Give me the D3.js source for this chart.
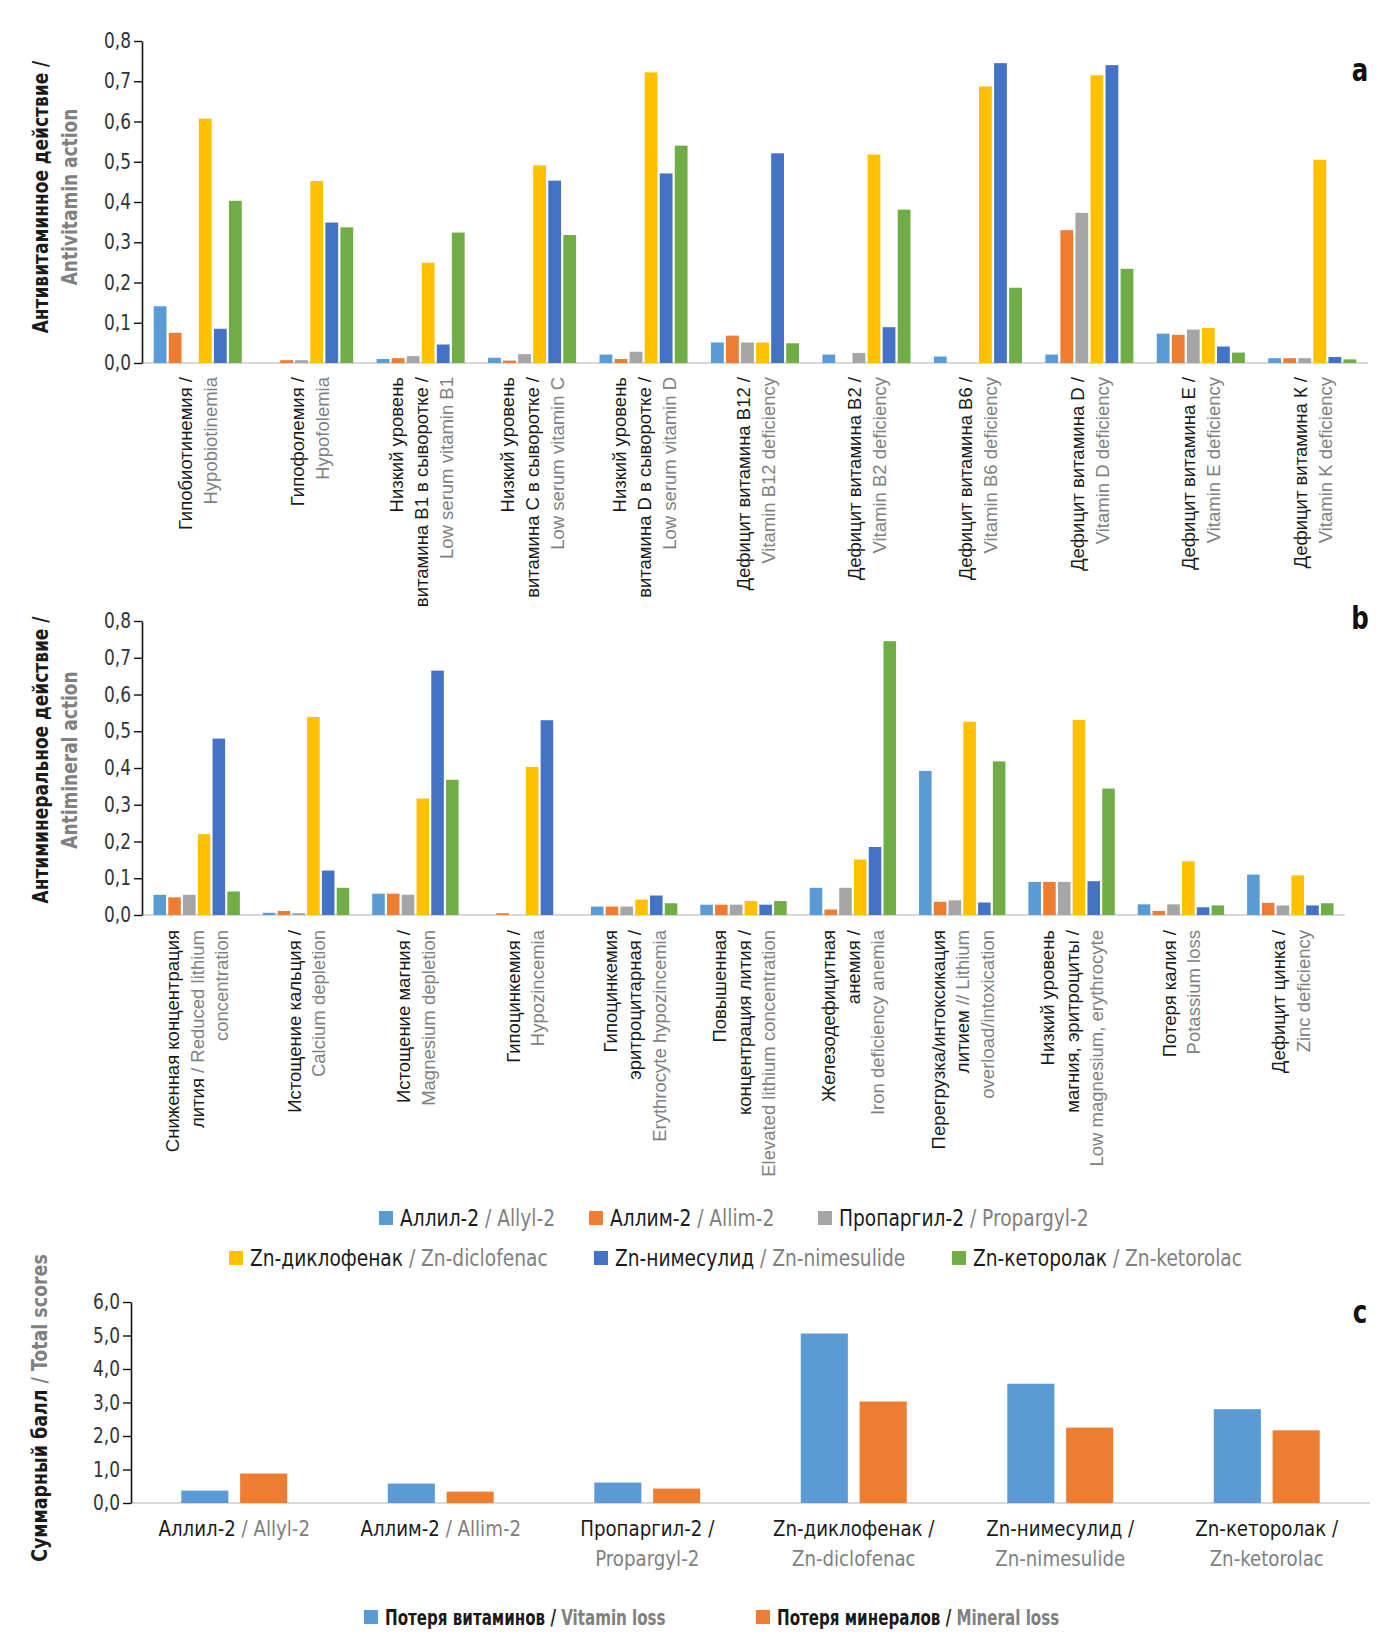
<!DOCTYPE html>
<html><head><meta charset="utf-8">
<script src="https://cdn.jsdelivr.net/npm/d3@7"></script>
<style>
html,body{margin:0;padding:0;background:#fff;}
.cond{font-family:"Liberation Sans Narrow","Arial Narrow","DejaVu Sans Condensed","Roboto Condensed","Open Sans",sans-serif;}
.reg{font-family:"Liberation Sans",Arial,sans-serif;}
</style>
</head><body>
<svg id="chart" width="1400" height="1649"></svg>
<script>
// ---------- DATA ----------
const seriesRu = ["Аллил-2", "Аллим-2", "Пропаргил-2", "Zn-диклофенак", "Zn-нимесулид", "Zn-кеторолак"];
const seriesEn = ["Allyl-2", "Allim-2", "Propargyl-2", "Zn-diclofenac", "Zn-nimesulide", "Zn-ketorolac"];
const seriesColors = ["#5b9bd5", "#ed7d31", "#a5a5a5", "#ffc000", "#4472c4", "#70ad47"];

// Panel a: antivitamin action ("|" marks the start of grey English text)
const vitaminCategories = [
  ["Гипобиотинемия /", "|Hypobiotinemia"],
  ["Гипофолемия /", "|Hypofolemia"],
  ["Низкий уровень", "витамина В1 в сыворотке /", "|Low serum vitamin B1"],
  ["Низкий уровень", "витамина С в сыворотке /", "|Low serum vitamin C"],
  ["Низкий уровень", "витамина D в сыворотке /", "|Low serum vitamin D"],
  ["Дефицит витамина В12 /", "|Vitamin B12 deficiency"],
  ["Дефицит витамина В2 /", "|Vitamin B2 deficiency"],
  ["Дефицит витамина В6 /", "|Vitamin B6 deficiency"],
  ["Дефицит витамина D /", "|Vitamin D deficiency"],
  ["Дефицит витамина Е /", "|Vitamin E deficiency"],
  ["Дефицит витамина К /", "|Vitamin K deficiency"]
];
const vitAllyl      = [0.141, 0.000, 0.010, 0.013, 0.021, 0.051, 0.021, 0.016, 0.021, 0.073, 0.012];
const vitAllim      = [0.075, 0.007, 0.012, 0.006, 0.010, 0.068, 0.000, 0.000, 0.330, 0.070, 0.012];
const vitPropargyl  = [0.000, 0.007, 0.017, 0.022, 0.028, 0.051, 0.025, 0.000, 0.373, 0.083, 0.012];
const vitDiclofenac = [0.607, 0.452, 0.249, 0.491, 0.722, 0.051, 0.518, 0.687, 0.715, 0.087, 0.505];
const vitNimesulide = [0.085, 0.349, 0.046, 0.453, 0.471, 0.521, 0.089, 0.745, 0.740, 0.041, 0.015];
const vitKetorolac  = [0.403, 0.337, 0.324, 0.318, 0.540, 0.049, 0.381, 0.187, 0.234, 0.026, 0.009];

// Panel b: antimineral action
const mineralCategories = [
  ["Сниженная концентрация", "лития |/ Reduced lithium", "|concentration"],
  ["Истощение кальция /", "|Calcium depletion"],
  ["Истощение магния /", "|Magnesium depletion"],
  ["Гипоцинкемия /", "|Hypozincemia"],
  ["Гипоцинкемия", "эритроцитарная /", "|Erythrocyte hypozincemia"],
  ["Повышенная", "концентрация лития /", "|Elevated lithium concentration"],
  ["Железодефицитная", "анемия /", "|Iron deficiency anemia"],
  ["Перегрузка/интоксикация", "литием |// Lithium", "|overload/intoxication"],
  ["Низкий уровень", "магния, эритроциты /", "|Low magnesium, erythrocyte"],
  ["Потеря калия /", "|Potassium loss"],
  ["Дефицит цинка /", "|Zinc deficiency"]
];
const minAllyl      = [0.055, 0.006, 0.058, 0.000, 0.023, 0.028, 0.074, 0.392, 0.090, 0.029, 0.110];
const minAllim      = [0.048, 0.011, 0.058, 0.005, 0.023, 0.028, 0.015, 0.036, 0.090, 0.011, 0.033];
const minPropargyl  = [0.055, 0.005, 0.055, 0.000, 0.023, 0.028, 0.074, 0.040, 0.090, 0.029, 0.026];
const minDiclofenac = [0.220, 0.539, 0.317, 0.403, 0.042, 0.038, 0.151, 0.526, 0.531, 0.146, 0.108];
const minNimesulide = [0.480, 0.121, 0.665, 0.530, 0.053, 0.028, 0.185, 0.034, 0.092, 0.021, 0.026];
const minKetorolac  = [0.064, 0.074, 0.368, 0.000, 0.032, 0.038, 0.745, 0.418, 0.344, 0.026, 0.032];

// Panel c: total scores
const totalCategories = [
  ["Аллил-2 |/ Allyl-2"],
  ["Аллим-2 |/ Allim-2"],
  ["Пропаргил-2 /", "|Propargyl-2"],
  ["Zn-диклофенак /", "|Zn-diclofenac"],
  ["Zn-нимесулид /", "|Zn-nimesulide"],
  ["Zn-кеторолак /", "|Zn-ketorolac"]
];
const vitaminLoss = [0.37, 0.58, 0.61, 5.06, 3.56, 2.80];
const mineralLoss = [0.88, 0.34, 0.43, 3.03, 2.25, 2.17];
const totalSeriesRu = ["Потеря витаминов", "Потеря минералов"];
const totalSeriesEn = ["Vitamin loss", "Mineral loss"];
const totalColors = ["#5b9bd5", "#ed7d31"];

const tickA = [0, 0.1, 0.2, 0.3, 0.4, 0.5, 0.6, 0.7, 0.8];
const tickC = [0, 1, 2, 3, 4, 5, 6];

// ---------- DRAW ----------
const svg = d3.select("#chart");
const BLACK = "#1a1a1a", GREY = "#808080";
const fmt1 = v => d3.format(".1f")(v).replace(".", ",");

function segText(sel, line, anchor) {
  const parts = line.split("|");
  sel.attr("text-anchor", anchor);
  if (parts[0]) sel.append("tspan").attr("fill", BLACK).text(parts[0]);
  if (parts.length > 1) sel.append("tspan").attr("fill", GREY).text(parts[1]);
}

// text horizontally condensed along its reading direction
function condText(parent, x, y, rot, sx) {
  return parent.append("g")
    .attr("transform", `translate(${x},${y})${rot ? " rotate(" + rot + ")" : ""} scale(${sx},1)`)
    .append("text").attr("class", "cond").attr("dominant-baseline", "central");
}

function groupedPanel(cfg) {
  const g = svg.append("g");
  const x0 = d3.scaleBand().domain(d3.range(cfg.cats.length)).range([cfg.left, cfg.right])
    .paddingInner(cfg.padOuterGroup).paddingOuter(cfg.padOuterGroup / 2);
  const x1 = d3.scaleBand().domain(d3.range(cfg.series.length)).range([0, x0.bandwidth()]).paddingInner(cfg.padBar);
  const y = d3.scaleLinear().domain(cfg.domain).range([cfg.base, cfg.top]);

  g.append("line").attr("x1", cfg.left).attr("x2", cfg.right)
    .attr("y1", y(0)).attr("y2", y(0)).attr("stroke", "#d9d9d9").attr("stroke-width", 2);

  cfg.series.forEach((vals, si) => {
    g.append("g").selectAll("rect").data(vals).join("rect")
      .attr("x", (d, i) => x0(i) + x1(si))
      .attr("width", x1.bandwidth())
      .attr("y", d => y(d))
      .attr("height", d => y(0) - y(d))
      .attr("fill", cfg.colors[si]);
  });

  const ax = g.append("g").attr("transform", `translate(${cfg.left},0)`)
    .call(d3.axisLeft(y).tickValues(cfg.ticks).tickFormat(fmt1).tickSize(8).tickSizeOuter(0));
  ax.select(".domain").attr("stroke", "#111").attr("stroke-width", 1.6);
  ax.selectAll(".tick line").attr("stroke", "#111").attr("stroke-width", 1.4);
  ax.selectAll(".tick text").attr("class", "cond").attr("font-size", cfg.tickSize).attr("fill", "#333")
    .attr("x", 0).attr("transform", "translate(-11,0) scale(0.9,1)");

  cfg.title.forEach((ln, li) => {
    const t = condText(g, cfg.titleX + li * cfg.titleLH, cfg.titleY, -90, cfg.titleScale)
      .attr("font-weight", "bold").attr("font-size", cfg.titleSize);
    segText(t, ln, "middle");
  });

  cfg.cats.forEach((lines, ci) => {
    const cx = x0(ci) + x0.bandwidth() / 2;
    if (cfg.rotated) {
      const lg = g.append("g").attr("transform", `translate(${cx},${cfg.labelTop}) rotate(-90)`);
      lines.forEach((ln, li) => {
        const t = lg.append("text").attr("class", "reg").attr("font-size", cfg.labelSize)
          .attr("x", 0).attr("y", (li - (lines.length - 1) / 2) * cfg.labelLH).attr("dominant-baseline", "central");
        segText(t, ln, "end");
      });
    } else {
      lines.forEach((ln, li) => {
        const t = condText(g, cx, cfg.labelTop + li * cfg.labelLH, 0, 0.92).attr("font-size", cfg.labelSize);
        segText(t, ln, "middle");
      });
    }
  });

  condText(g, cfg.letterX, cfg.letterY, 0, 0.85).attr("font-weight", "bold").attr("font-size", 32)
    .attr("text-anchor", "middle").attr("fill", "#111").text(cfg.letter);
}

groupedPanel({
  cats: vitaminCategories,
  series: [vitAllyl, vitAllim, vitPropargyl, vitDiclofenac, vitNimesulide, vitKetorolac],
  colors: seriesColors, left: 142, right: 1368, top: 41, base: 363, domain: [0, 0.8], ticks: tickA,
  padOuterGroup: 0.21, padBar: 0.15, tickSize: 21,
  title: ["Антивитаминное действие /", "|Antivitamin action"], titleX: 40, titleY: 197,
  titleSize: 22, titleLH: 29, titleScale: 0.86,
  rotated: true, labelTop: 377, labelSize: 18.5, labelLH: 25,
  letter: "a", letterX: 1360, letterY: 70
});

groupedPanel({
  cats: mineralCategories,
  series: [minAllyl, minAllim, minPropargyl, minDiclofenac, minNimesulide, minKetorolac],
  colors: seriesColors, left: 142, right: 1345, top: 621, base: 915, domain: [0, 0.8], ticks: tickA,
  padOuterGroup: 0.21, padBar: 0.15, tickSize: 21,
  title: ["Антиминеральное действие /", "|Antimineral action"], titleX: 40, titleY: 760,
  titleSize: 22, titleLH: 29, titleScale: 0.86,
  rotated: true, labelTop: 930, labelSize: 18.5, labelLH: 24.5,
  letter: "b", letterX: 1360, letterY: 618
});

groupedPanel({
  cats: totalCategories,
  series: [vitaminLoss, mineralLoss],
  colors: totalColors, left: 131, right: 1370, top: 1302, base: 1503, domain: [0, 6], ticks: tickC,
  padOuterGroup: 0.487, padBar: 0.2, tickSize: 21,
  title: ["Суммарный балл |/ Total scores"], titleX: 40, titleY: 1408,
  titleSize: 22, titleLH: 29, titleScale: 0.88,
  rotated: false, labelTop: 1528, labelSize: 22, labelLH: 30,
  letter: "c", letterX: 1360, letterY: 1312
});

// ---------- LEGENDS ----------
const legendPos = [
  {x: 379, y: 1218}, {x: 589, y: 1218}, {x: 818, y: 1218},
  {x: 229, y: 1258}, {x: 594, y: 1258}, {x: 952, y: 1258}
];
const lg = svg.append("g");
seriesRu.forEach((ru, i) => {
  const p = legendPos[i];
  lg.append("rect").attr("x", p.x).attr("y", p.y - 7).attr("width", 14).attr("height", 14).attr("fill", seriesColors[i]);
  const t = condText(lg, p.x + 21, p.y, 0, 0.9).attr("font-size", 23);
  segText(t, ru + " |/ " + seriesEn[i], "start");
});

const legend2Pos = [{x: 364, y: 1617}, {x: 756, y: 1617}];
totalSeriesRu.forEach((ru, i) => {
  const p = legend2Pos[i];
  lg.append("rect").attr("x", p.x).attr("y", p.y - 7).attr("width", 14).attr("height", 14).attr("fill", totalColors[i]);
  const t = condText(lg, p.x + 21, p.y, 0, 0.8).attr("font-size", 21).attr("font-weight", "bold");
  segText(t, ru + " / |" + totalSeriesEn[i], "start");
});
</script>
</body></html>
